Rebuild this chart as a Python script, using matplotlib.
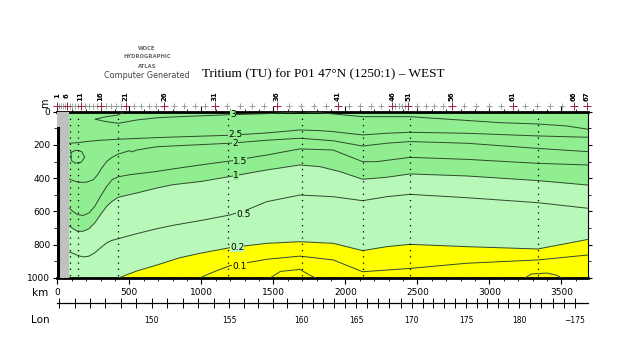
import numpy as np
import matplotlib
matplotlib.use("Agg")
import matplotlib.pyplot as plt
from matplotlib.transforms import blended_transform_factory

# ---------------- data ----------------
KM_MAX = 3687
c3 = [(460, 0), (424, 20), (340, 30), (262, 45), (340, 60), (424, 70), (550, 50), (700, 36),
      (900, 28), (1199, 18), (1450, 12), (1690, 1), (1824, 6), (2120, 30), (2449, 30),
      (2727, 46), (3074, 66), (3336, 74), (3537, 86), (3687, 106)]
c25 = [(83, 190), (150, 186), (200, 180), (300, 172), (424, 166), (690, 156), (900, 150),
       (1199, 142), (1454, 128), (1685, 110), (1824, 114), (1916, 120), (2120, 140),
       (2287, 130), (2449, 124), (2842, 130), (3336, 146), (3687, 154)]
c25_loop = [(95, 245), (130, 232), (170, 240), (190, 275), (165, 305), (125, 310), (98, 295), (95, 245)]
c2 = [(83, 405), (110, 415), (150, 425), (200, 425), (250, 410), (280, 380), (308, 340),
      (343, 300), (380, 275), (424, 255), (500, 235), (520, 242), (551, 231), (690, 211),
      (1199, 190), (1454, 172), (1685, 160), (1916, 175), (2120, 207), (2287, 190),
      (2449, 180), (2842, 190), (3336, 221), (3687, 241)]
c15 = [(83, 580), (100, 595), (140, 620), (180, 625), (220, 610), (260, 570), (300, 510),
       (343, 450), (380, 410), (424, 392), (500, 380), (690, 360), (800, 345), (1000, 320),
       (1199, 297), (1454, 261), (1685, 224), (1916, 231), (2120, 301), (2217, 301),
       (2449, 275), (2842, 287), (3336, 311), (3687, 321)]
c1 = [(83, 690), (110, 705), (140, 720), (180, 720), (220, 705), (260, 670), (300, 620),
      (343, 570), (380, 540), (424, 515), (550, 490), (690, 460), (800, 440), (1000, 420),
      (1222, 387), (1454, 351), (1685, 321), (1824, 331), (1963, 361), (2120, 407),
      (2287, 395), (2449, 375), (2842, 387), (3336, 415), (3687, 442)]
c05 = [(83, 845), (100, 850), (140, 865), (180, 875), (220, 870), (260, 850), (300, 820),
       (343, 790), (380, 775), (424, 765), (550, 735), (690, 705), (800, 685), (1000, 655),
       (1199, 622), (1315, 592), (1454, 542), (1685, 502), (1916, 512), (2120, 536),
       (2287, 512), (2449, 498), (2842, 518), (3336, 548), (3687, 582)]
c02 = [(430, 1000), (550, 960), (690, 924), (850, 880), (991, 853), (1199, 819), (1454, 793),
       (1685, 783), (1916, 793), (2120, 837), (2287, 813), (2449, 799), (2842, 813),
       (3336, 827), (3500, 800), (3687, 769)]
c01 = [(991, 1000), (1100, 960), (1199, 928), (1454, 889), (1685, 870), (1916, 893),
       (2120, 964), (2287, 954), (2449, 944), (2842, 913), (3336, 893), (3687, 863)]
c005a = [(1480, 1000), (1550, 962), (1685, 950), (1754, 985), (1790, 1000)]
c005b = [(3250, 1000), (3290, 978), (3400, 972), (3467, 985), (3500, 1000)]

contour_labels = ["3", "2.5", "2", "1.5", "1", "0.5", "0.2", "0.1"]
label_km = [1199, 1185, 1215, 1220, 1222, 1240, 1200, 1215]
label_depth = [18, 140, 192, 297, 386, 622, 821, 930]

profile_km = [88, 146, 424, 1183, 1697, 2121, 2449, 3336]

station_km = [0, 13, 26, 39, 52, 65, 85, 105, 124, 143, 162, 190, 218, 245, 273, 301, 336,
              371, 407, 442, 477, 530, 583, 635, 688, 741, 812, 883, 953, 1024, 1095, 1181,
              1267, 1352, 1438, 1524, 1609, 1694, 1779, 1864, 1949, 2024, 2099, 2175, 2250,
              2325, 2348, 2370, 2393, 2415, 2438, 2498, 2558, 2619, 2679, 2739, 2824, 2909,
              2995, 3080, 3165, 3250, 3334, 3419, 3503, 3588, 3675]
station_labels = ["1", "6", "11", "16", "21", "26", "31", "36", "41", "46", "51", "56",
                  "61", "66", "67"]
station_label_km = [0, 65, 162, 301, 477, 741, 1095, 1524, 1949, 2325, 2438, 2739, 3165,
                    3588, 3675]

depth_ticks = [0, 200, 400, 600, 800, 1000]
km_ticks = [0, 500, 1000, 1500, 2000, 2500, 3000, 3500]
lon_labels = ["150", "155", "160", "165", "170", "175", "180", "\u2212175"]
lon_values = [150, 155, 160, 165, 170, 175, 180, 185]
lon_km = [655, 1192, 1697, 2074, 2461, 2838, 3206, 3595]

DARK = "#90EE90"
LIGHT = "#B8F8B8"
YEL = "#FFFF00"
GREY = "#C0C0C0"
LINE = "#2E4A2E"

fig = plt.figure(figsize=(6.4, 3.5), dpi=100)
W, H = 640.0, 350.0
x0, x1, y0, y1 = 57.3, 588.3, 111.7, 277.7
ax = fig.add_axes([x0 / W, 1 - y1 / H, (x1 - x0) / W, (y1 - y0) / H])
ax.set_xlim(0, KM_MAX)
ax.set_ylim(1000, 0)
ax.set_facecolor(LIGHT)

def xy(pts):
    a = np.array(pts, dtype=float)
    return a[:, 0], a[:, 1]

# dark green (>1 TU)
x, y = xy(c1)
ax.fill(np.r_[x, KM_MAX, x[0]], np.r_[y, 0, 0], color=DARK, lw=0, zorder=1)
# yellow (<0.2 TU)
x, y = xy(c02)
ax.fill(np.r_[x, KM_MAX], np.r_[y, 1000], color=YEL, lw=0, zorder=1)

for c in [c3, c25, c25_loop, c2, c15, c1, c05, c02, c01, c005a, c005b]:
    x, y = xy(c)
    ax.plot(x, y, color=LINE, lw=0.7, zorder=3)

# coast / grey land strip
ax.axvspan(0, 83, color=GREY, zorder=4, lw=0)
ax.plot([4, 4], [100, 1000], color="black", lw=2.2, zorder=5)

# sample profiles (dotted)
for k in profile_km:
    ax.plot([k, k], [0, 1000], color="black", lw=0.9, ls=(0, (1, 4)), zorder=4)

# contour labels
bgcol = [DARK, DARK, DARK, DARK, DARK, LIGHT, LIGHT, YEL]
for t, k, d, bc in zip(contour_labels, label_km, label_depth, bgcol):
    ax.text(k, d, t, fontsize=6.5, ha="left", va="center", zorder=6,
            bbox=dict(facecolor=bc, edgecolor="none", pad=0.0))

# axes styling
ax.spines["left"].set_visible(False)
ax.spines["top"].set_linewidth(2)
ax.spines["bottom"].set_linewidth(2)
ax.spines["right"].set_linewidth(0.8)
ax.set_yticks(depth_ticks)
ax.set_yticks(np.arange(0, 1001, 100), minor=True)
ax.set_xticks(km_ticks)
ax.set_xticks(np.arange(0, KM_MAX, 100), minor=True)
ax.tick_params(axis="y", which="both", direction="out", left=True, right=True,
               labelsize=6.5, pad=2)
ax.tick_params(axis="y", which="major", length=3)
ax.tick_params(axis="y", which="minor", length=2)
ax.tick_params(axis="x", which="both", direction="out", top=True, bottom=True,
               labelsize=6.5, pad=3.5)
ax.tick_params(axis="x", which="major", length=4)
ax.tick_params(axis="x", which="minor", length=2.5)
ax.set_xticklabels([str(v) for v in km_ticks])

# station markers above plot
tr = blended_transform_factory(ax.transData, ax.transAxes)
lab_set = set(station_label_km)
small = [k for k in station_km if k not in lab_set]
ax.plot(small, [1.036] * len(small), ls="none", marker="+", ms=4, mew=0.6,
        color="#8a9a8a", transform=tr, clip_on=False)
ax.plot(station_label_km, [1.036] * len(station_label_km), ls="none", marker="+", ms=6,
        mew=0.7, color="#9a2040", transform=tr, clip_on=False)
for t, k in zip(station_labels, station_label_km):
    ax.text(k, 1.095, t, rotation=90, fontsize=5, fontweight="bold", ha="center",
            va="center", transform=tr, clip_on=False)

fig.text(45 / W, 1 - 103 / H, "m", rotation=90, fontsize=7, ha="center", va="center")
fig.text(40 / W, 1 - 293 / H, "km", fontsize=7.5, ha="center", va="center")
fig.text(40 / W, 1 - 320 / H, "Lon", fontsize=7.5, ha="center", va="center")

# longitude axis
axl = fig.add_axes([x0 / W, 1 - 303 / H, (x1 - x0) / W, 0.0001])
axl.set_xlim(0, KM_MAX)
for s in ["top", "left", "right"]:
    axl.spines[s].set_visible(False)
axl.spines["bottom"].set_linewidth(0.9)
axl.set_yticks([])
axl.set_xticks(lon_km)
axl.set_xticklabels(lon_labels)
lon_minor = np.interp(np.arange(144, 186), np.r_[143, lon_values],
                      np.r_[655 - 7 * 107, lon_km])
axl.set_xticks(lon_minor[(lon_minor > 0) & (lon_minor < KM_MAX)], minor=True)
axl.tick_params(axis="x", which="both", direction="inout", labelsize=5.5, pad=6,
                length=7, width=0.7)

# title and logo
fig.text(0.505, 1 - 74 / H, "Tritium (TU) for P01 47\u00b0N (1250:1) \u2013 WEST",
         fontsize=9.5, family="Liberation Serif", ha="center", va="center")
for t, yy in zip(["WOCE", "HYDROGRAPHIC", "ATLAS"], [48, 57, 66]):
    fig.text(147 / W, 1 - yy / H, t, fontsize=3.8, fontweight="bold", color="#666666",
             ha="center", va="center")
fig.text(147 / W, 1 - 76 / H, "Computer Generated", fontsize=5.8, color="#444444",
         ha="center", va="center")

fig.savefig("out.png", dpi=100)
